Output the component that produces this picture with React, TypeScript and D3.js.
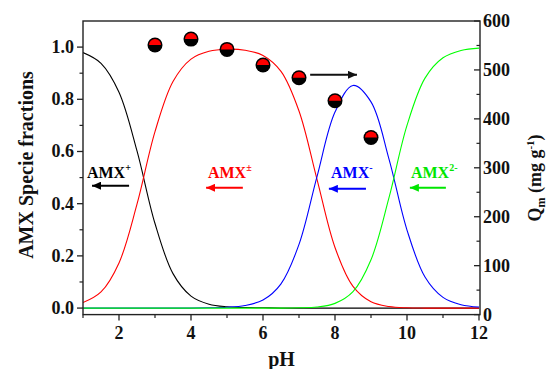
import React from 'react';
import * as d3 from 'd3';

// pH grid for species distribution curves
const pH = [1, 1.5, 2, 2.5, 3, 3.5, 4, 4.5, 5, 5.5, 6, 6.5, 7, 7.5, 8, 8.5, 9, 9.5, 10, 10.5, 11, 11.5, 12];
const amxPlus = [0.979, 0.938, 0.827, 0.602, 0.324, 0.132, 0.046, 0.015, 0.005, 0.002, 0.001, 0, 0, 0, 0, 0, 0, 0, 0, 0, 0, 0, 0];
const amxZw = [0.021, 0.062, 0.173, 0.398, 0.676, 0.868, 0.954, 0.984, 0.992, 0.988, 0.968, 0.907, 0.755, 0.493, 0.232, 0.083, 0.024, 0.006, 0.001, 0, 0, 0, 0];
const amxMinus = [0, 0, 0, 0, 0, 0, 0, 0.001, 0.003, 0.01, 0.031, 0.093, 0.244, 0.504, 0.751, 0.853, 0.79, 0.571, 0.299, 0.119, 0.041, 0.013, 0.004];
const amx2Minus = [0, 0, 0, 0, 0, 0, 0, 0, 0, 0, 0, 0, 0.001, 0.004, 0.018, 0.063, 0.185, 0.423, 0.7, 0.881, 0.959, 0.987, 0.996];

// Adsorption capacity points
const qPH = [3, 4, 5, 6, 7, 8, 9];
const qValues = [551, 563, 542, 510, 484, 437, 362];

// ticks
const xTicks = [2, 4, 6, 8, 10, 12];
const xMinor = [1, 3, 5, 7, 9, 11];
const yLeftTicks = [0, 0.2, 0.4, 0.6, 0.8, 1.0];
const yLeftMinor = [0.1, 0.3, 0.5, 0.7, 0.9];
const yRightTicks = [0, 100, 200, 300, 400, 500, 600];
const yRightMinor = [50, 150, 250, 350, 450, 550];

const FONT = '"Liberation Serif", "Times New Roman", serif';

const species = [
  { name: 'plus', values: amxPlus, color: '#000000', text: '#000000', sup: '+', labelPH: 1.11, arrowFrom: 2.28, arrowTo: 1.25, arrowY: 0.469 },
  { name: 'zw', values: amxZw, color: '#ff0000', text: '#ff0000', sup: '±', labelPH: 4.47, arrowFrom: 5.44, arrowTo: 4.42, arrowY: 0.461 },
  { name: 'minus', values: amxMinus, color: '#0000ff', text: '#0000ff', sup: '-', labelPH: 7.89, arrowFrom: 8.86, arrowTo: 7.83, arrowY: 0.457 },
  { name: 'm2', values: amx2Minus, color: '#00ff00', text: '#00e600', sup: '2-', labelPH: 10.11, arrowFrom: 11.08, arrowTo: 10.08, arrowY: 0.461 },
];

export default function App() {
  const W = 548, H = 369;
  const left = 83, right = 479, top = 21, bottom = 314.6;
  const x = d3.scaleLinear().domain([1, 12]).range([left, right]);
  const yL = d3.scaleLinear().domain([-0.025, 1.1]).range([bottom, top]);
  const yR = d3.scaleLinear().domain([0, 600]).range([bottom, top]);
  const frameR = 480;

  const line = (vals: number[]) =>
    d3.line<number>()
      .x((_, i) => x(pH[i]))
      .y((d) => yL(d))
      .curve(d3.curveCatmullRom.alpha(0.5))(vals) || '';

  const axisColor = '#222';
  const arc = d3.arc();
  const halfTop = arc({ innerRadius: 0, outerRadius: 6, startAngle: -Math.PI / 2, endAngle: Math.PI / 2 }) || '';

  return (
    <svg width={W} height={H} style={{ position: 'absolute', left: 0, top: 0, background: '#fff' }} fontFamily={FONT}>
      <defs>
        <clipPath id="plotclip">
          <rect x={left} y={top} width={frameR - left} height={bottom - top} />
        </clipPath>
        {species.map((s) => (
          <marker key={s.name} id={'ah-' + s.name} markerUnits="userSpaceOnUse" markerWidth={10} markerHeight={8} refX={9} refY={4} orient="auto">
            <path d="M0,0 L9,4 L0,8 Z" fill={s.color === '#00ff00' ? '#00e600' : s.color} />
          </marker>
        ))}
        <marker id="ah-q" markerUnits="userSpaceOnUse" markerWidth={10} markerHeight={8} refX={9} refY={4} orient="auto">
          <path d="M0,0 L9,4 L0,8 Z" fill="#111" />
        </marker>
      </defs>

      {/* curves */}
      <g clipPath="url(#plotclip)">
        {species.map((s) => (
          <path key={s.name} d={line(s.values)} fill="none" stroke={s.color} strokeWidth={1.1} />
        ))}
      </g>

      {/* frame */}
      <rect x={left} y={top} width={frameR - left} height={bottom - top} fill="none" stroke={axisColor} strokeWidth={1.4} />

      {/* bottom axis */}
      {xTicks.map((t) => (
        <g key={'xt' + t}>
          <line x1={x(t)} x2={x(t)} y1={bottom} y2={bottom + 6} stroke={axisColor} strokeWidth={1.3} />
          <text x={x(t)} y={339} textAnchor="middle" fontSize={18} fontWeight="bold" fill="#111">{t}</text>
        </g>
      ))}
      {xMinor.map((t) => (
        <line key={'xm' + t} x1={x(t)} x2={x(t)} y1={bottom} y2={bottom + 3.5} stroke={axisColor} strokeWidth={1.2} />
      ))}
      <text x={(left + frameR) / 2} y={366} textAnchor="middle" fontSize={20} fontWeight="bold" fill="#111">pH</text>

      {/* left axis */}
      {yLeftTicks.map((t) => (
        <g key={'yl' + t}>
          <line x1={left - 6} x2={left} y1={yL(t)} y2={yL(t)} stroke={axisColor} strokeWidth={1.3} />
          <text x={74} y={yL(t) + 6} textAnchor="end" fontSize={18} fontWeight="bold" fill="#111">{t.toFixed(1)}</text>
        </g>
      ))}
      {yLeftMinor.map((t) => (
        <line key={'ylm' + t} x1={left - 3.5} x2={left} y1={yL(t)} y2={yL(t)} stroke={axisColor} strokeWidth={1.2} />
      ))}
      <text transform={`translate(33,165) rotate(-90)`} textAnchor="middle" fontSize={20} fontWeight="bold" fill="#111">AMX Specie fractions</text>

      {/* right axis */}
      {yRightTicks.map((t) => (
        <g key={'yr' + t}>
          <line x1={frameR - 6} x2={frameR} y1={yR(t)} y2={yR(t)} stroke={axisColor} strokeWidth={1.3} />
          <text x={483} y={yR(t) + 6} textAnchor="start" fontSize={18} fontWeight="bold" fill="#111">{t}</text>
        </g>
      ))}
      {yRightMinor.map((t) => (
        <line key={'yrm' + t} x1={frameR - 3.5} x2={frameR} y1={yR(t)} y2={yR(t)} stroke={axisColor} strokeWidth={1.2} />
      ))}
      <text transform={`translate(541,178) rotate(-90)`} textAnchor="middle" fontSize={18} fontWeight="bold" fill="#111">
        Q<tspan dy={4} fontSize={12}>m</tspan><tspan dy={-4}> (mg g</tspan><tspan dy={-7} fontSize={11}>-1</tspan><tspan dy={7}>)</tspan>
      </text>

      {/* species labels & arrows */}
      {species.map((s) => (
        <g key={'lab' + s.name}>
          <text x={x(s.labelPH)} y={yL(0.5)} fontSize={16} fontWeight="bold" fill={s.text}>
            AMX<tspan dy={-7} fontSize={10}>{s.sup}</tspan>
          </text>
          <line x1={x(s.arrowFrom)} x2={x(s.arrowTo)} y1={yL(s.arrowY)} y2={yL(s.arrowY)} stroke={s.text} strokeWidth={2} markerEnd={`url(#ah-${s.name})`} />
        </g>
      ))}

      {/* Q arrow */}
      <line x1={x(7.31)} x2={x(8.61)} y1={yR(490)} y2={yR(490)} stroke="#111" strokeWidth={2} markerEnd="url(#ah-q)" />

      {/* Q markers */}
      {qPH.map((p, i) => (
        <g key={'q' + p} transform={`translate(${x(p)},${yR(qValues[i])})`}>
          <circle r={7.5} fill="#000" />
          <path d={halfTop} fill="#ff0000" />
        </g>
      ))}
    </svg>
  );
}
